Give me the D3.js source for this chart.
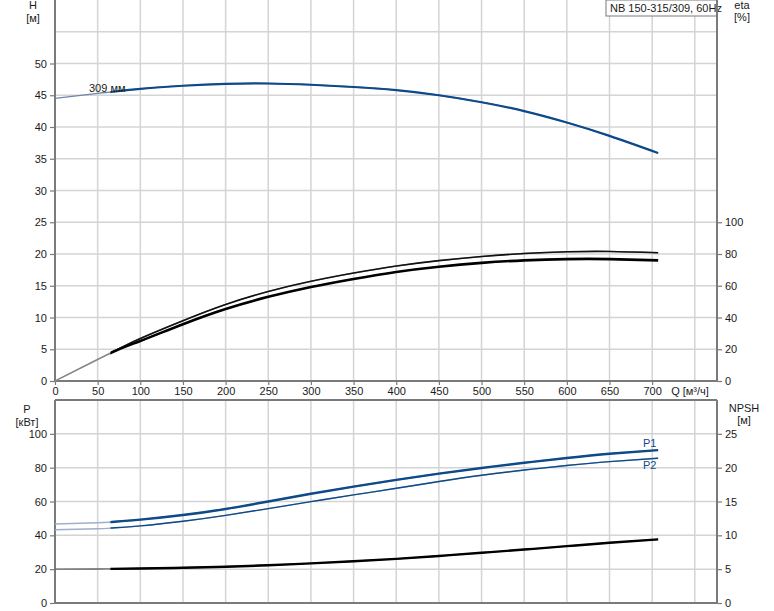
<!DOCTYPE html>
<html><head><meta charset="utf-8">
<script src="https://cdn.jsdelivr.net/npm/d3@7"></script>
<style>
body{margin:0;background:#fff;}
svg{display:block;font-family:"Liberation Sans",Arial,sans-serif;}
</style></head>
<body>
<svg id="c" width="774" height="611"></svg>
<script>
// ---- data ----
const flowQ = [0, 50, 65, 100, 150, 200, 250, 300, 350, 400, 450, 500, 550, 600, 650, 707];
const headH = [44.5, 45.3, 45.5, 46.0, 46.5, 46.8, 46.85, 46.65, 46.3, 45.8, 45.0, 43.9, 42.5, 40.7, 38.6, 35.9];
const etaQ = [0, 65, 100, 150, 200, 250, 300, 350, 400, 450, 500, 550, 600, 650, 707];
const etaUpper = [0, 17.6, 26.8, 38.0, 48.2, 56.4, 62.8, 68.0, 72.4, 75.8, 78.4, 80.3, 81.4, 81.6, 80.8];
const etaLower = [0, 17.6, 25.2, 35.8, 45.4, 53.0, 59.2, 64.3, 68.7, 72.0, 74.4, 76.0, 76.8, 76.8, 76.0];
const powerP1 = [46.7, 47.4, 47.8, 49.3, 52.0, 55.6, 60.0, 64.6, 68.8, 72.8, 76.5, 79.8, 82.9, 85.7, 88.2, 90.4];
const powerP2 = [43.3, 43.9, 44.3, 45.6, 48.3, 51.8, 55.8, 59.9, 63.9, 67.8, 71.8, 75.5, 78.6, 81.3, 83.6, 85.6];
const npsh = [5.0, 5.03, 5.05, 5.1, 5.2, 5.36, 5.58, 5.86, 6.17, 6.52, 6.95, 7.42, 7.9, 8.4, 8.9, 9.4];
const qTicks = [0, 50, 100, 150, 200, 250, 300, 350, 400, 450, 500, 550, 600, 650, 700];
const hTicks = [0, 5, 10, 15, 20, 25, 30, 35, 40, 45, 50];
const etaTicks = [0, 20, 40, 60, 80, 100];
const pTicks = [0, 20, 40, 60, 80, 100];
const npshTicks = [0, 5, 10, 15, 20, 25];
const title = "NB 150-315/309, 60Hz";
const thickFrom = 65;

// ---- layout ----
const svg = d3.select("#c");
const X0 = 55, X1 = 717;
const x = d3.scaleLinear([0, 776], [X0, X1]);
const yH = d3.scaleLinear([0, 60], [381, 0]);
const yEta = d3.scaleLinear([0, 240], [381, 0]);
const yP = d3.scaleLinear([0, 120], [603, 400]);
const yN = d3.scaleLinear([0, 30], [603, 400]);
const gridC = "#d4d4d4", axisC = "#7a7a7a", textC = "#1a1a1a";
const blue = "#0e4a8a", blueLight = "#9fb1c8";
const fs = 11;

function grid(yScale, vals, top, bottom) {
  const g = svg.append("g");
  g.selectAll("line.h").data(vals).join("line")
    .attr("x1", X0).attr("x2", X1).attr("y1", d => yScale(d)).attr("y2", d => yScale(d))
    .attr("stroke", gridC).attr("stroke-width", 1.5);
  g.selectAll("line.v").data(d3.range(50, 776, 50)).join("line")
    .attr("x1", d => x(d)).attr("x2", d => x(d)).attr("y1", top).attr("y2", bottom)
    .attr("stroke", gridC).attr("stroke-width", 1.5);
}
grid(yH, d3.range(5, 60, 5), 0, 381);
grid(yP, d3.range(20, 121, 20), 400, 603);

function frame(top, bottom, drawTop) {
  const g = svg.append("g").attr("stroke", axisC).attr("stroke-width", 2);
  g.append("line").attr("x1", X0).attr("x2", X0).attr("y1", top).attr("y2", bottom);
  g.append("line").attr("x1", X1).attr("x2", X1).attr("y1", top).attr("y2", bottom);
  g.append("line").attr("x1", X0).attr("x2", X1).attr("y1", bottom).attr("y2", bottom);
  if (drawTop) g.append("line").attr("x1", X0).attr("x2", X1).attr("y1", top).attr("y2", top);
}
frame(0, 381, false);
frame(400, 603, true);

function styleAxis(g) {
  g.select(".domain").remove();
  g.selectAll(".tick line").attr("stroke", axisC).attr("stroke-width", 1.2);
  g.selectAll("text").attr("fill", textC).attr("font-size", fs).attr("font-family", "Liberation Sans, Arial, sans-serif");
}
function leftAxis(scale, ticks) {
  styleAxis(svg.append("g").attr("transform", `translate(${X0},0)`)
    .call(d3.axisLeft(scale).tickValues(ticks).tickSize(5).tickPadding(3)));
}
function rightAxis(scale, ticks) {
  styleAxis(svg.append("g").attr("transform", `translate(${X1},0)`)
    .call(d3.axisRight(scale).tickValues(ticks).tickSize(5).tickPadding(3)));
}
leftAxis(yH, hTicks);
rightAxis(yEta, etaTicks);
leftAxis(yP, pTicks);
rightAxis(yN, npshTicks);

styleAxis(svg.append("g").attr("transform", "translate(0,381)")
  .call(d3.axisBottom(x).tickValues(qTicks).tickSize(4).tickPadding(2)));
svg.append("text").attr("x", 690).attr("y", 395).attr("text-anchor", "middle")
  .attr("font-size", fs).attr("fill", textC).text("Q [м³/ч]");

function label(xp, y1, t1, y2, t2) {
  svg.append("text").attr("x", xp).attr("y", y1).attr("text-anchor", "middle").attr("font-size", fs).attr("fill", textC).text(t1);
  svg.append("text").attr("x", xp).attr("y", y2).attr("text-anchor", "middle").attr("font-size", fs).attr("fill", textC).text(t2);
}
label(33, 9, "H", 22, "[м]");
label(742, 9, "eta", 21, "[%]");
label(27, 413, "P", 426, "[кВт]");
label(744, 412, "NPSH", 424, "[м]");

const tb = svg.append("g");
const tt = tb.append("text").attr("x", 610).attr("y", 12).attr("font-size", fs).attr("fill", textC).text(title);
const bb = tt.node().getBBox();
tb.insert("rect", "text").attr("x", bb.x - 4).attr("y", 0).attr("width", X1 - (bb.x - 4)).attr("height", 16)
  .attr("fill", "#fff").attr("stroke", axisC).attr("stroke-width", 1);
svg.append("line").attr("x1", X1).attr("x2", X1).attr("y1", 0).attr("y2", 16).attr("stroke", axisC).attr("stroke-width", 2);

function curve(qs, vs, yScale, color, light, wThin, wThick) {
  const pts = qs.map((q, i) => [q, vs[i]]);
  const line = d3.line().x(d => x(d[0])).y(d => yScale(d[1])).curve(d3.curveNatural);
  const full = svg.append("path").attr("d", line(pts)).attr("fill", "none").attr("stroke", "none");
  // thin lead-in part
  svg.append("path").attr("d", line(pts)).attr("fill", "none")
    .attr("stroke", light).attr("stroke-width", wThin)
    .attr("clip-path", null);
  // thick part, clipped to Q >= thickFrom
  const id = "clip" + Math.random().toString(36).slice(2);
  svg.append("clipPath").attr("id", id).append("rect")
    .attr("x", x(thickFrom)).attr("y", 0).attr("width", X1 - x(thickFrom)).attr("height", 611);
  svg.append("path").attr("d", line(pts)).attr("fill", "none")
    .attr("stroke", color).attr("stroke-width", wThick).attr("clip-path", `url(#${id})`);
  full.remove();
}
curve(flowQ, headH, yH, blue, "#6f86a8", 1.3, 2.2);
curve(etaQ, etaUpper, yEta, "#111", "#8a8a8a", 1.3, 1.6);
curve(etaQ, etaLower, yEta, "#000", "#8a8a8a", 1.3, 2.6);
curve(flowQ, powerP1, yP, blue, blueLight, 1.6, 2.4);
curve(flowQ, powerP2, yP, blue, blueLight, 1.3, 1.4);
curve(flowQ, npsh, yN, "#000", "#666", 1.4, 2.4);

svg.append("text").attr("x", 89).attr("y", 92).attr("font-size", fs).attr("fill", textC).text("309 мм");
svg.append("text").attr("x", 643).attr("y", 447).attr("font-size", fs).attr("fill", blue).text("P1");
svg.append("text").attr("x", 643).attr("y", 469).attr("font-size", fs).attr("fill", blue).text("P2");
</script>
</body></html>
